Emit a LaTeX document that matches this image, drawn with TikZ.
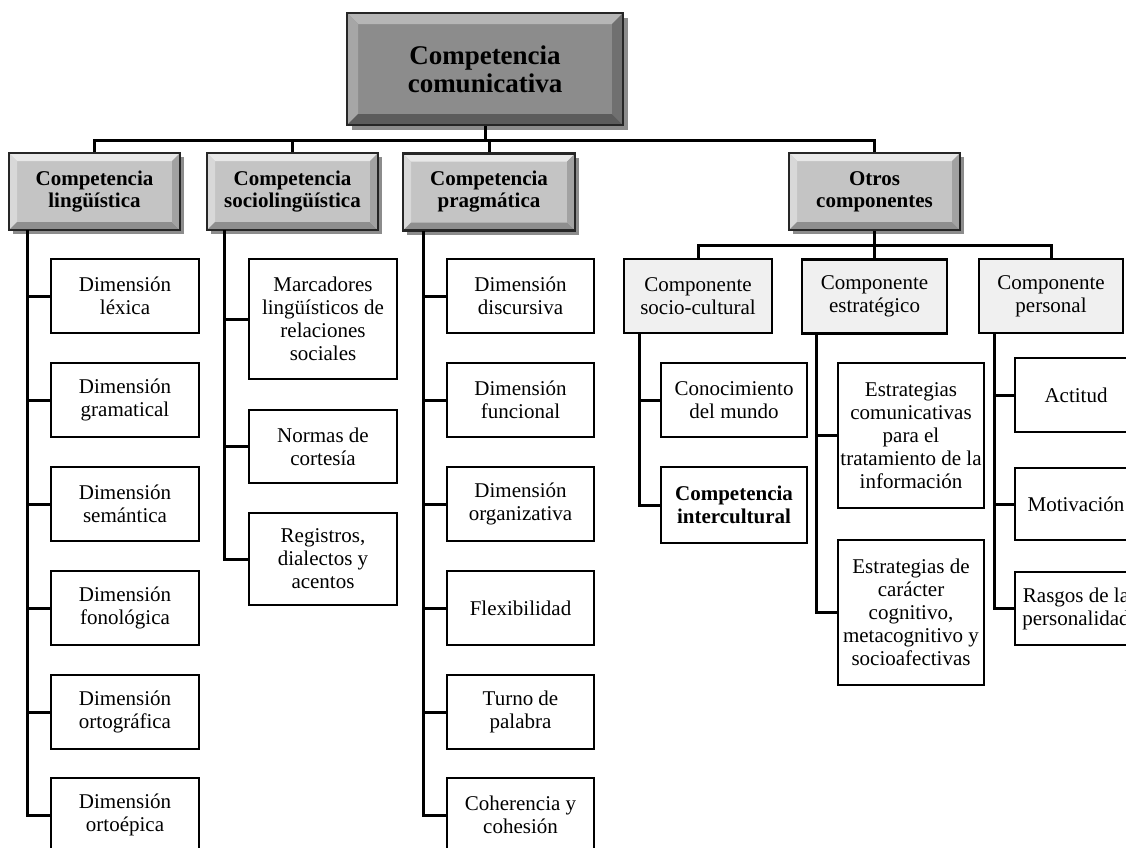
\documentclass[tikz,border=0pt]{standalone}
\usepackage{fontspec}
\setmainfont{Liberation Serif}
\usetikzlibrary{shadows}
\definecolor{hdmid}{HTML}{C4C4C4}
\definecolor{hdtop}{HTML}{E8E8E8}
\definecolor{hdleft}{HTML}{D8D8D8}
\definecolor{hdbot}{HTML}{8E8E8E}
\definecolor{hdright}{HTML}{A2A2A2}
\definecolor{tpmid}{HTML}{8C8C8C}
\definecolor{tptop}{HTML}{B6B6B6}
\definecolor{tpleft}{HTML}{A6A6A6}
\definecolor{tpbot}{HTML}{5C5C5C}
\definecolor{tpright}{HTML}{707070}
\definecolor{edge}{HTML}{262626}
\definecolor{compfill}{HTML}{F0F0F0}
\tikzset{
  bevel/.style n args={5}{path picture={
    \coordinate (pbSW) at (path picture bounding box.south west);
    \coordinate (pbNE) at (path picture bounding box.north east);
    \coordinate (pbNW) at (path picture bounding box.north west);
    \coordinate (pbSE) at (path picture bounding box.south east);
    \fill[#2] (pbNW) -- (pbNE) -- ([xshift=-#1,yshift=-#1]pbNE) -- ([xshift=#1,yshift=-#1]pbNW) -- cycle;
    \fill[#3] (pbNW) -- (pbSW) -- ([xshift=#1,yshift=#1]pbSW) -- ([xshift=#1,yshift=-#1]pbNW) -- cycle;
    \fill[#4] (pbSW) -- (pbSE) -- ([xshift=-#1,yshift=#1]pbSE) -- ([xshift=#1,yshift=#1]pbSW) -- cycle;
    \fill[#5] (pbNE) -- (pbSE) -- ([xshift=-#1,yshift=#1]pbSE) -- ([xshift=-#1,yshift=-#1]pbNE) -- cycle;
  }},
  box/.style={draw=black, line width=2.5pt, fill=white, minimum width=148pt,
    minimum height=74pt, inner sep=0pt, align=center,
    font=\fontsize{21}{23}\selectfont},
  compbox/.style={box, fill=compfill},
  headbox/.style={draw=edge, line width=2.2pt, fill=hdmid, inner sep=0pt,
    minimum width=171pt, minimum height=77pt, align=center,
    font=\fontsize{21}{22}\selectfont\bfseries,
    drop shadow={shadow xshift=4pt, shadow yshift=-4pt, opacity=.45, fill=black},
    bevel={8pt}{hdtop}{hdleft}{hdbot}{hdright}},
  topbox/.style={draw=edge, line width=2.8pt, fill=tpmid, inner sep=0pt,
    minimum width=276pt, minimum height=112pt, align=center,
    font=\fontsize{27}{28}\selectfont\bfseries,
    drop shadow={shadow xshift=5pt, shadow yshift=-5pt, opacity=.45, fill=black},
    bevel={11pt}{tptop}{tpleft}{tpbot}{tpright}},
  conn/.style={draw=black, line width=3pt}
}
\begin{document}
\begin{tikzpicture}[x=1pt,y=-1pt]
\useasboundingbox (0,0) rectangle (1126,847);
\clip (0,0) rectangle (1126,847);

% top
\node[topbox] (top) at (485,69) {Competencia\\comunicativa};

% headers
\node[headbox] (lin) at (94.5,191.5) {Competencia\\lingüística};
\node[headbox] (soc) at (292.5,191.5) {Competencia\\sociolingüística};
\node[headbox, minimum width=172pt] (prag) at (489,192) {Competencia\\pragmática};
\node[headbox] (otros) at (874.5,191.5) {Otros\\componentes};

% bus top
\coordinate (bus) at (0,140);
\draw[conn] (top.south) -- (top.south |- bus);
\draw[conn] (lin.north) |- (otros.north |- bus) -- (otros.north);
\draw[conn] (soc.north) -- (soc.north |- bus);
\draw[conn] (prag.north) -- (prag.north |- bus);

% linguistica children
\node[box] (l1) at (125,296) {Dimensión\\léxica};
\node[box] (l2) at (125,400) {Dimensión\\gramatical};
\node[box] (l3) at (125,504) {Dimensión\\semántica};
\node[box] (l4) at (125,608) {Dimensión\\fonológica};
\node[box] (l5) at (125,712) {Dimensión\\ortográfica};
\node[box] (l6) at (125,815) {Dimensión\\ortoépica};
\coordinate (linS) at (27,230);
\draw[conn] (linS) |- (l6.west);
\foreach \n in {l1,l2,l3,l4,l5} \draw[conn] (\n.west) -- (\n.west -| linS);

% sociolinguistica children
\node[box, minimum height=120pt] (s1) at (323,319) {Marcadores\\lingüísticos de\\relaciones\\sociales};
\node[box, minimum height=73pt] (s2) at (323,446.5) {Normas de\\cortesía};
\node[box, minimum height=92pt] (s3) at (323,559) {Registros,\\dialectos y\\acentos};
\coordinate (socS) at (224,230);
\draw[conn] (socS) |- (s3.west);
\foreach \n in {s1,s2} \draw[conn] (\n.west) -- (\n.west -| socS);

% pragmatica children
\node[box, minimum width=147pt] (p1) at (520.5,296) {Dimensión\\discursiva};
\node[box, minimum width=147pt] (p2) at (520.5,400) {Dimensión\\funcional};
\node[box, minimum width=147pt] (p3) at (520.5,504) {Dimensión\\organizativa};
\node[box, minimum width=147pt] (p4) at (520.5,608) {Flexibilidad};
\node[box, minimum width=147pt] (p5) at (520.5,712) {Turno de\\palabra};
\node[box, minimum width=147pt] (p6) at (520.5,815) {Coherencia y\\cohesión};
\coordinate (pragS) at (423,231);
\draw[conn] (pragS) |- (p6.west);
\foreach \n in {p1,p2,p3,p4,p5} \draw[conn] (\n.west) -- (\n.west -| pragS);

% otros componentes
\node[compbox] (cs) at (698,296) {Componente\\socio-cultural};
\node[compbox, minimum width=145pt] (ce) at (874.5,296.5) {Componente\\estratégico};
\node[compbox, minimum width=144pt] (cp) at (1051,296) {Componente\\personal};
\coordinate (bus2) at (0,245);
\draw[conn] (otros.south) -- (otros.south |- bus2);
\draw[conn] (cs.north) |- (cp.north |- bus2) -- (cp.north);
\draw[conn] (ce.north) -- (ce.north |- bus2);

% socio-cultural children
\node[box, minimum width=146pt] (c1) at (734,400) {Conocimiento\\del mundo};
\node[box, minimum width=146pt, minimum height=76pt, font=\fontsize{21}{23}\selectfont\bfseries] (c2) at (734,505) {Competencia\\intercultural};
\coordinate (csS) at (639,333);
\draw[conn] (csS) |- (c2.west);
\draw[conn] (c1.west) -- (c1.west -| csS);

% estrategico children
\node[box, minimum width=146pt, minimum height=145pt] (e1) at (911,435.5) {Estrategias\\comunicativas\\para el\\tratamiento de la\\información};
\node[box, minimum width=146pt, minimum height=145pt] (e2) at (911,612.5) {Estrategias de\\carácter\\cognitivo,\\metacognitivo y\\socioafectivas};
\coordinate (ceS) at (816,333);
\draw[conn] (ceS) |- (e2.west);
\draw[conn] (e1.west) -- (e1.west -| ceS);

% personal children
\node[box, minimum width=122pt] (q1) at (1076,395) {Actitud};
\node[box, minimum width=122pt, minimum height=72pt] (q2) at (1076,504) {Motivación};
\node[box, minimum width=122pt, minimum height=73pt] (q3) at (1076,608.5) {Rasgos de la\\personalidad};
\coordinate (cpS) at (994,333);
\draw[conn] (cpS) |- (q3.west);
\foreach \n in {q1,q2} \draw[conn] (\n.west) -- (\n.west -| cpS);
\end{tikzpicture}
\end{document}
